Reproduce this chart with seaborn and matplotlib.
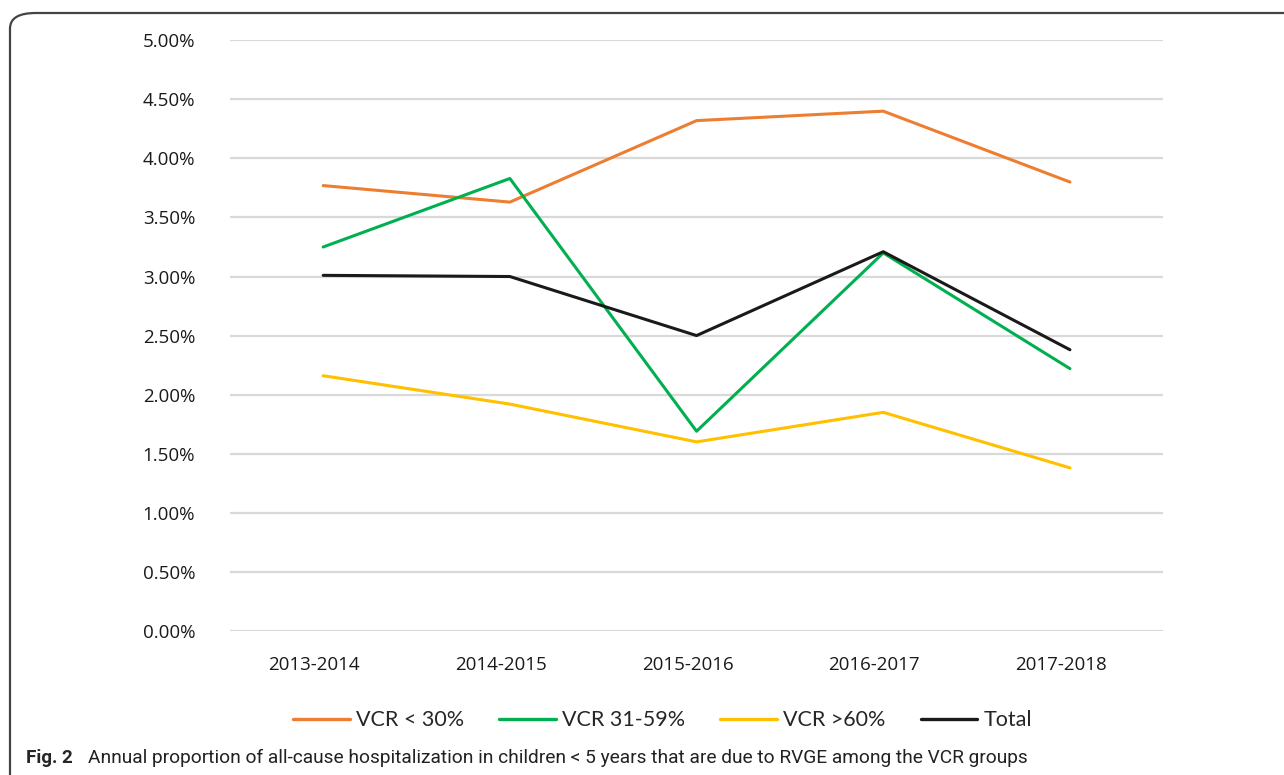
import pandas as pd
import matplotlib.pyplot as plt
import matplotlib.transforms as mtrans
import seaborn as sns
from matplotlib.patches import FancyBboxPatch
from matplotlib.ticker import FuncFormatter

# data (percent)
seasons = ["2013-2014", "2014-2015", "2015-2016", "2016-2017", "2017-2018"]
vcr_low = [3.77, 3.63, 4.32, 4.40, 3.80]
vcr_mid = [3.25, 3.83, 1.69, 3.20, 2.22]
vcr_high = [2.16, 1.92, 1.60, 1.85, 1.38]
total = [3.01, 3.00, 2.50, 3.21, 2.38]
series_names = ["VCR < 30%", "VCR 31-59%", "VCR >60%", "Total"]
colors = ["#ED7D31", "#00B050", "#FFC000", "#1a1a1a"]

sns.set_theme(style="white")
plt.rcParams["font.family"] = ["Open Sans", "DejaVu Sans"]

frames = []
for name, vals in zip(series_names, [vcr_low, vcr_mid, vcr_high, total]):
    frames.append(pd.DataFrame({"season": seasons, "value": vals, "group": name}))
df = pd.concat(frames, ignore_index=True)

fig = plt.figure(figsize=(12.84, 7.75), dpi=100)
ax = fig.add_axes([0.179, 0.186, 0.727, 0.762])

sns.lineplot(data=df, x="season", y="value", hue="group", hue_order=series_names,
             palette=colors, linewidth=2.2, sort=False, ax=ax)

ax.set_ylim(0, 5)
ax.set_xlim(-0.5, len(seasons) - 0.5)
ax.set_yticks([i * 0.5 for i in range(11)])
ax.yaxis.set_major_formatter(FuncFormatter(lambda v, p: f"{v:.2f}%"))
ax.grid(axis="y", color="#d9d9d9", linewidth=1.6)
ax.grid(axis="x", visible=False)
ax.set_axisbelow(True)
for s in ax.spines.values():
    s.set_visible(False)
ax.tick_params(axis="y", labelsize=13.5, pad=25, length=0, colors="#1a1a1a")
ax.tick_params(axis="x", labelsize=13.5, pad=18, length=0, colors="#1a1a1a")
ax.set_xlabel("")
ax.set_ylabel("")

# category labels sit a little left of the data points in the original
shift = mtrans.ScaledTranslation(-9 / 100, 0, fig.dpi_scale_trans)
for lbl in ax.get_xticklabels():
    lbl.set_transform(lbl.get_transform() + shift)

leg = ax.legend(loc="center", bbox_to_anchor=(0.516, 0.071), bbox_transform=fig.transFigure,
                ncol=4, frameon=False, fontsize=15, handlelength=2.7,
                handletextpad=0.3, columnspacing=1.7)
for t in leg.get_texts():
    t.set_family(["Lato", "DejaVu Sans"])
    t.set_fontsize(15.5)
for h in leg.get_lines():
    h.set_linewidth(2.4)

# rounded frame around the figure panel
frame = FancyBboxPatch((10 / 1284, -0.2), 1.2, 1 - 13 / 775 + 0.2,
                       boxstyle="round,pad=0,rounding_size=0.02",
                       transform=fig.transFigure, fill=False,
                       edgecolor="#444444", linewidth=1.6, clip_on=False)
fig.patches.append(frame)

cap_fam = ["Roboto", "DejaVu Sans"]
fig.text(26 / 1284, 1 - 758 / 775, "Fig. 2", fontsize=13.5, fontweight="bold",
         family=cap_fam, va="center", ha="left")
fig.text(88 / 1284, 1 - 758 / 775,
         "Annual proportion of all-cause hospitalization in children < 5 years that are due to RVGE among the VCR groups",
         fontsize=13.8, family=cap_fam, va="center", ha="left", color="#222222")

fig.savefig("out.png", dpi=100)
